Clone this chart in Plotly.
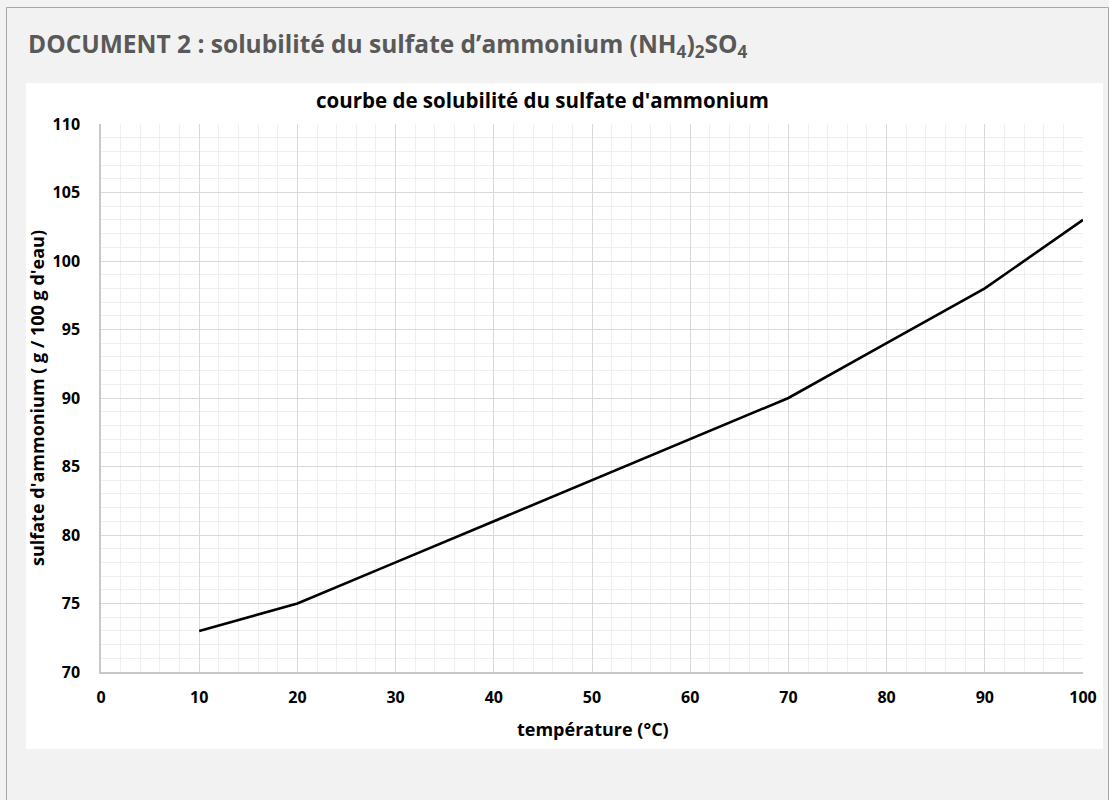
import plotly.graph_objects as go

temperature = [10, 20, 30, 40, 50, 60, 70, 80, 90, 100]
solubility = [73, 75, 78, 81, 84, 87, 90, 94, 98, 103]

x_ticks = [0, 10, 20, 30, 40, 50, 60, 70, 80, 90, 100]
y_ticks = [70, 75, 80, 85, 90, 95, 100, 105, 110]

header = "DOCUMENT 2 : solubilité du sulfate d’ammonium (NH<sub>4</sub>)<sub>2</sub>SO<sub>4</sub>"
chart_title = "courbe de solubilité du sulfate d'ammonium"
x_title = "température (°C)"
y_title = "sulfate d'ammonium ( g / 100 g d'eau)"

W, H = 1109, 800
L, R, T, B = 101, 1083, 124, 672
pw, ph = R - L, B - T


def px(x):
    return (x - L) / pw


def py(y):
    return (B - y) / ph


fig = go.Figure()
fig.add_trace(go.Scatter(x=temperature, y=solubility, mode="lines",
                         line=dict(color="black", width=2.6), showlegend=False,
                         hoverinfo="skip"))

font_main = "Open Sans"

fig.update_layout(
    width=W, height=H,
    margin=dict(l=L, r=W - R, t=T, b=H - B, autoexpand=False),
    paper_bgcolor="#f2f2f2",
    plot_bgcolor="white",
    font=dict(family=font_main, color="black"),
    shapes=[
        dict(type="rect", xref="paper", yref="paper", layer="below",
             x0=px(6.5), x1=px(1108.5), y0=py(810), y1=py(7.5),
             line=dict(color="#a6a6a6", width=1), fillcolor="#f2f2f2"),
        dict(type="rect", xref="paper", yref="paper", layer="below",
             x0=px(26), x1=px(1103), y0=py(749), y1=py(83),
             line=dict(width=0), fillcolor="white"),
    ],
    annotations=[
        dict(text="<b>" + header + "</b>", xref="paper", yref="paper",
             x=px(26), y=py(45), xanchor="left", yanchor="middle",
             showarrow=False, font=dict(size=24.5, color="#595959", family=font_main)),
        dict(text="<b>" + chart_title + "</b>", xref="paper", yref="paper",
             x=px(542), y=py(100), xanchor="center", yanchor="middle",
             showarrow=False, font=dict(size=20.5, color="black", family=font_main)),
        dict(text="<b>" + x_title + "</b>", xref="paper", yref="paper",
             x=px(593), y=py(729), xanchor="center", yanchor="middle",
             showarrow=False, font=dict(size=18, color="black", family=font_main)),
        dict(text="<b>" + y_title + "</b>", xref="paper", yref="paper",
             x=px(37), y=py(398), xanchor="center", yanchor="middle", textangle=-90,
             showarrow=False, font=dict(size=18, color="black", family=font_main)),
    ],
)

fig.update_xaxes(
    range=[0, 100], tickmode="array", tickvals=x_ticks,
    ticktext=["<b>%d</b>" % v for v in x_ticks],
    tickfont=dict(size=16, color="black"),
    showgrid=True, gridcolor="#d9d9d9", gridwidth=1,
    showline=True, linecolor="#c8c8c8", linewidth=1.5,
    zeroline=False, ticks="", ticklabelstandoff=10,
    minor=dict(dtick=2, tick0=0, showgrid=True, gridcolor="#efefef", gridwidth=1),
    fixedrange=True,
)
fig.update_yaxes(
    range=[70, 110], tickmode="array", tickvals=y_ticks,
    ticktext=["<b>%d</b>" % v for v in y_ticks],
    tickfont=dict(size=16, color="black"),
    showgrid=True, gridcolor="#d9d9d9", gridwidth=1,
    showline=True, linecolor="#c8c8c8", linewidth=1.5,
    zeroline=False, ticks="", ticklabelstandoff=16,
    minor=dict(dtick=1, tick0=70, showgrid=True, gridcolor="#efefef", gridwidth=1),
    fixedrange=True,
)

fig.write_html("out.html", config={"displayModeBar": False},
               post_script="document.body.style.margin='0px';")
